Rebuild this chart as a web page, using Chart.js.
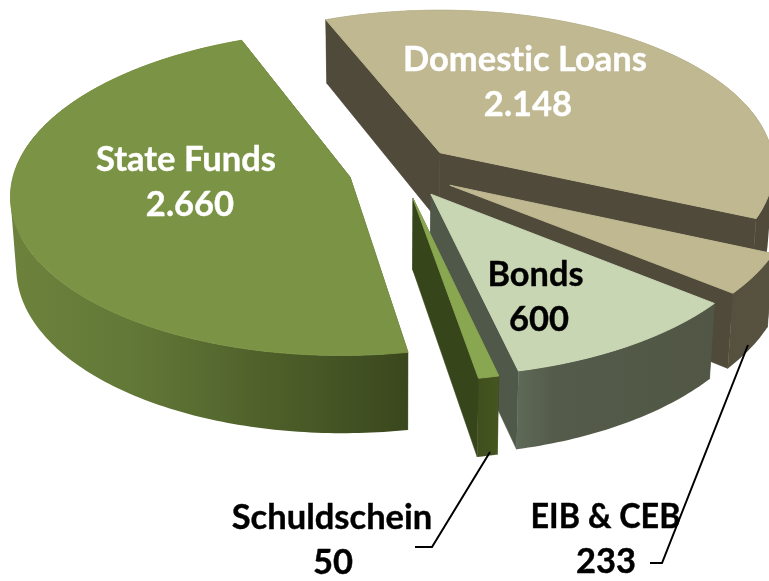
<!DOCTYPE html>
<html><head><meta charset="utf-8">
<style>html,body{margin:0;padding:0;background:#fff}#wrap{width:769px;height:581px}</style>
<script src="https://cdn.jsdelivr.net/npm/chart.js@4"></script>
</head><body><div id="wrap"><canvas id="c" width="769" height="581"></canvas></div>
<script>
const categories = ['Domestic Loans','EIB & CEB','Bonds','Schuldschein','State Funds'];
const amounts = [2148,233,600,50,2660];
const topColors = ['#bfb891','#bfb891','#c9d6b3','#89a651','#7b9344'];
const explodeX = [0.137,0.166,0.110,0.0575,-0.130];
const explodeY = [-0.122,0.082,0.137,0.162,0.032];
const edgeColors = ['#4f4a3a','#4f4a3a','#50584a','#37451b','#3a471d'];
const wallStops = [
  [[0,'#4f4a3a'],[1,'#4f4a3a']],
  [[0,'#4f4a3a'],[1,'#57523f']],
  [[0,'#5f6a58'],[0.2,'#545b4a'],[1,'#515744']],
  [[0,'#3f4e1d'],[1,'#45551f']],
  [[0,'#6c823c'],[0.3,'#627837'],[1,'#3a471d']]
];
const sideRanges = [[320,769],[440,769],[515,715],[475,497],[15,408]];
const labelColors = ['#ffffff','#000000','#000000','#000000','#ffffff'];
const labelSpots = [[525,60],[605.5,517],[535.5,275],[332,518],[186,160]];
const valueSpots = [[528,105],[606,562],[539,320],[333,563],[190,205]];
const labelFit = [244,150,96,201,180];
const leaders = [null,[[748,345],[662,563],[650,563]],null,[[490,452],[432,547],[415,547]],null];
const paintOrder = [0,1,2,3,4];
const view = {cx:394, cy:172, s:336, k:0.476, p:0.097, shear:4, depth:70, floor:0.985, font:'bold 34.5px Lato'};

function project(X,Y,down){
  const w = 1 - view.p*Y;
  const x = view.cx + view.s*X/w - view.shear*Y;
  const y = view.cy + view.s*view.k*Y/w;
  return down ? [view.cx + (x-view.cx)*view.floor, y + view.depth/w] : [x,y];
}
function addPoly(ctx,pts){
  pts.forEach((q,i)=> i?ctx.lineTo(q[0],q[1]):ctx.moveTo(q[0],q[1]));
  ctx.closePath();
}
function tracePoly(ctx,pts){ ctx.beginPath(); addPoly(ctx,pts); }
function area(pts){
  let a=0;
  pts.forEach((q,i)=>{ const r=pts[(i+1)%pts.length]; a+=q[0]*r[1]-r[0]*q[1]; });
  return a;
}
const pie3d = {
  id:'pie3d',
  beforeDatasetsDraw(chart){
    const ctx = chart.ctx, meta = chart.getDatasetMeta(0);
    ctx.save();
    ctx.lineWidth = 0.6; ctx.lineJoin='round';
    paintOrder.forEach(i=>{
      const arc = meta.data[i];
      const ox = explodeX[i], oy = explodeY[i];
      const rim = [];
      const n = Math.max(4,Math.ceil((arc.endAngle-arc.startAngle)*60));
      for(let j=0;j<=n;j++){
        const t = arc.startAngle+(arc.endAngle-arc.startAngle)*j/n;
        rim.push([ox+Math.cos(t), oy+Math.sin(t)]);
      }
      const topRim = rim.map(q=>project(q[0],q[1],false));
      const botRim = rim.map(q=>project(q[0],q[1],true));
      const a0 = project(ox,oy,false), a1 = project(ox,oy,true);
      const g = ctx.createLinearGradient(sideRanges[i][0],0,sideRanges[i][1],0);
      wallStops[i].forEach(s=>g.addColorStop(s[0],s[1]));
      ctx.fillStyle = edgeColors[i]; ctx.strokeStyle = edgeColors[i];
      tracePoly(ctx,[a0,topRim[0],botRim[0],a1]); ctx.fill(); ctx.stroke();
      tracePoly(ctx,[a0,topRim[n],botRim[n],a1]); ctx.fill(); ctx.stroke();
      ctx.fillStyle = g;
      ctx.beginPath();
      for(let j=0;j<n;j++){
        let quad=[topRim[j],topRim[j+1],botRim[j+1],botRim[j]];
        if(area(quad)<0) quad=quad.reverse();
        addPoly(ctx,quad);
      }
      ctx.fill('nonzero');
      ctx.fillStyle = arc.options.backgroundColor; ctx.strokeStyle = arc.options.backgroundColor;
      ctx.lineWidth = 1;
      tracePoly(ctx,[a0].concat(topRim)); ctx.fill(); ctx.stroke();
      ctx.lineWidth = 0.6;
    });
    ctx.restore();
    return false;
  },
  afterDraw(chart){
    const ctx = chart.ctx, ds = chart.data.datasets[0];
    ctx.save();
    ctx.strokeStyle='#000'; ctx.lineWidth=2;
    leaders.forEach(l=>{ if(!l) return;
      ctx.beginPath(); l.forEach((q,i)=> i?ctx.lineTo(q[0],q[1]):ctx.moveTo(q[0],q[1])); ctx.stroke();
    });
    ctx.font=view.font; ctx.textAlign='center'; ctx.textBaseline='middle';
    ctx.letterSpacing='0.01px'; ctx.lineWidth=0.4; ctx.lineJoin='round';
    const put=(t,x,y,m)=>{ ctx.fillText(t,x,y,m); ctx.strokeText(t,x,y,m); };
    chart.data.labels.forEach((name,i)=>{
      ctx.fillStyle=labelColors[i]; ctx.strokeStyle=labelColors[i];
      put(name,labelSpots[i][0],labelSpots[i][1],labelFit[i]);
      put(ds.data[i].toLocaleString('de-DE'),valueSpots[i][0],valueSpots[i][1],labelFit[i]);
    });
    ctx.restore();
  }
};
new Chart(document.getElementById('c'),{
  type:'pie',
  data:{labels:categories,datasets:[{data:amounts,backgroundColor:topColors,borderWidth:0}]},
  options:{responsive:false,animation:false,rotation:-22,events:[],
    plugins:{legend:{display:false},tooltip:{enabled:false},title:{display:false}}},
  plugins:[pie3d]
});
</script></body></html>
